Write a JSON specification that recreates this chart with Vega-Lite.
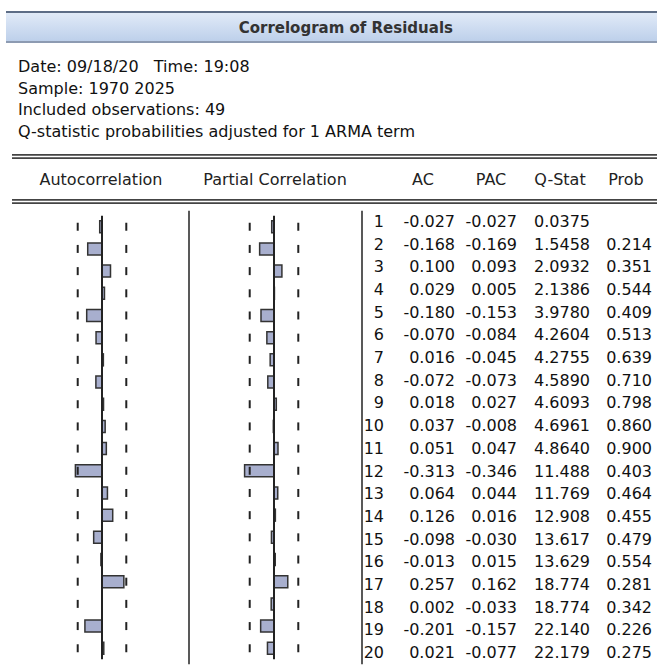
{
  "$schema": "https://vega.github.io/schema/vega-lite/v6.json",
  "width": 657,
  "height": 670,
  "autosize": "none",
  "padding": 0,
  "background": "white",
  "config": {
    "view": {"stroke": null},
    "locale": {"number": {"decimal": ".", "thousands": ",", "grouping": [3], "currency": ["$", ""], "minus": "-"}},
    "text": {"font": "DejaVu Sans", "fontSize": 16, "color": "#111111"}
  },
  "datasets": {
    "acf": [
      {"lag": 1, "ac": -0.027, "pac": -0.027, "q": "0.0375", "prob": null},
      {"lag": 2, "ac": -0.168, "pac": -0.169, "q": "1.5458", "prob": 0.214},
      {"lag": 3, "ac": 0.100, "pac": 0.093, "q": "2.0932", "prob": 0.351},
      {"lag": 4, "ac": 0.029, "pac": 0.005, "q": "2.1386", "prob": 0.544},
      {"lag": 5, "ac": -0.180, "pac": -0.153, "q": "3.9780", "prob": 0.409},
      {"lag": 6, "ac": -0.070, "pac": -0.084, "q": "4.2604", "prob": 0.513},
      {"lag": 7, "ac": 0.016, "pac": -0.045, "q": "4.2755", "prob": 0.639},
      {"lag": 8, "ac": -0.072, "pac": -0.073, "q": "4.5890", "prob": 0.710},
      {"lag": 9, "ac": 0.018, "pac": 0.027, "q": "4.6093", "prob": 0.798},
      {"lag": 10, "ac": 0.037, "pac": -0.008, "q": "4.6961", "prob": 0.860},
      {"lag": 11, "ac": 0.051, "pac": 0.047, "q": "4.8640", "prob": 0.900},
      {"lag": 12, "ac": -0.313, "pac": -0.346, "q": "11.488", "prob": 0.403},
      {"lag": 13, "ac": 0.064, "pac": 0.044, "q": "11.769", "prob": 0.464},
      {"lag": 14, "ac": 0.126, "pac": 0.016, "q": "12.908", "prob": 0.455},
      {"lag": 15, "ac": -0.098, "pac": -0.030, "q": "13.617", "prob": 0.479},
      {"lag": 16, "ac": -0.013, "pac": 0.015, "q": "13.629", "prob": 0.554},
      {"lag": 17, "ac": 0.257, "pac": 0.162, "q": "18.774", "prob": 0.281},
      {"lag": 18, "ac": 0.002, "pac": -0.033, "q": "18.774", "prob": 0.342},
      {"lag": 19, "ac": -0.201, "pac": -0.157, "q": "22.140", "prob": 0.226},
      {"lag": 20, "ac": 0.021, "pac": -0.077, "q": "22.179", "prob": 0.275}
    ]
  },
  "layer": [
    {
      "data": {"values": [{"title": "Correlogram of Residuals"}]},
      "layer": [
        {
          "mark": {"type": "rect", "fill": {"gradient": "linear", "x1": 0, "y1": 0, "x2": 0, "y2": 1, "stops": [{"offset": 0, "color": "#e2ebf8"}, {"offset": 1, "color": "#bccfea"}]}},
          "encoding": {
            "x": {"datum": 0, "type": "quantitative", "scale": {"domain": [0, 1], "range": [6, 657], "nice": false, "zero": false}, "axis": null},
            "x2": {"datum": 1},
            "y": {"datum": 0, "type": "quantitative", "scale": {"domain": [0, 1], "range": [12, 42], "nice": false, "zero": false}, "axis": null},
            "y2": {"datum": 1}
          }
        },
        {
          "mark": {"type": "rule", "stroke": "#5d6d86", "strokeWidth": 2},
          "encoding": {
            "x": {"datum": 0, "type": "quantitative", "scale": {"domain": [0, 1], "range": [6, 657], "nice": false, "zero": false}, "axis": null},
            "x2": {"datum": 1},
            "y": {"datum": 0, "type": "quantitative", "scale": {"domain": [0, 1], "range": [12, 42], "nice": false, "zero": false}, "axis": null}
          }
        },
        {
          "mark": {"type": "rule", "stroke": "#8d9bb2", "strokeWidth": 2},
          "encoding": {
            "x": {"datum": 0, "type": "quantitative", "scale": {"domain": [0, 1], "range": [6, 657], "nice": false, "zero": false}, "axis": null},
            "x2": {"datum": 1},
            "y": {"datum": 1, "type": "quantitative", "scale": {"domain": [0, 1], "range": [12, 42], "nice": false, "zero": false}, "axis": null}
          }
        },
        {
          "mark": {"type": "text", "fontWeight": "bold", "fontSize": 15, "color": "#333333", "align": "center", "baseline": "middle"},
          "encoding": {
            "x": {"datum": 0.522, "type": "quantitative", "scale": {"domain": [0, 1], "range": [6, 657], "nice": false, "zero": false}, "axis": null},
            "y": {"datum": 0.52, "type": "quantitative", "scale": {"domain": [0, 1], "range": [12, 42], "nice": false, "zero": false}, "axis": null},
            "text": {"field": "title"}
          }
        }
      ]
    },
    {
      "data": {"values": [
        {"note": "Date: 09/18/20\u00a0\u00a0\u00a0Time: 19:08"},
        {"note": "Sample: 1970 2025"},
        {"note": "Included observations: 49"},
        {"note": "Q-statistic probabilities adjusted for 1 ARMA term"}
      ]},
      "mark": {"type": "text", "align": "left", "baseline": "middle"},
      "encoding": {
        "x": {"datum": 0, "type": "quantitative", "scale": {"domain": [0, 1], "range": [18, 657], "nice": false, "zero": false}, "axis": null},
        "y": {"field": "note", "type": "nominal", "sort": null, "scale": {"type": "point", "range": [67, 132], "padding": 0}, "axis": null},
        "text": {"field": "note"}
      }
    },
    {
      "data": {"values": [{}]},
      "encoding": {
        "y": {"datum": 0, "type": "quantitative", "scale": {"domain": [0, 1, 2], "range": [156.5, 180, 201.5], "nice": false, "zero": false}, "axis": null}
      },
      "layer": [
        {
          "mark": {"type": "rule", "stroke": "#444444", "strokeWidth": 5},
          "encoding": {
            "x": {"datum": -1, "type": "quantitative", "scale": {"domain": [-1, 0, 1, 2, 3, 4, 5, 6], "range": [12, 101, 275, 423, 491, 560, 626, 657], "nice": false, "zero": false}, "axis": null},
            "x2": {"datum": 6}
          }
        },
        {
          "mark": {"type": "rule", "stroke": "#ffffff", "strokeWidth": 1.6},
          "encoding": {
            "x": {"datum": -1, "type": "quantitative", "scale": {"domain": [-1, 0, 1, 2, 3, 4, 5, 6], "range": [12, 101, 275, 423, 491, 560, 626, 657], "nice": false, "zero": false}, "axis": null},
            "x2": {"datum": 6}
          }
        },
        {
          "mark": {"type": "rule", "stroke": "#444444", "strokeWidth": 5},
          "encoding": {
            "x": {"datum": -1, "type": "quantitative", "scale": {"domain": [-1, 0, 1, 2, 3, 4, 5, 6], "range": [12, 101, 275, 423, 491, 560, 626, 657], "nice": false, "zero": false}, "axis": null},
            "x2": {"datum": 6},
            "y": {"datum": 2, "type": "quantitative", "scale": {"domain": [0, 1, 2], "range": [156.5, 180, 201.5], "nice": false, "zero": false}, "axis": null}
          }
        },
        {
          "mark": {"type": "rule", "stroke": "#ffffff", "strokeWidth": 1.6},
          "encoding": {
            "x": {"datum": -1, "type": "quantitative", "scale": {"domain": [-1, 0, 1, 2, 3, 4, 5, 6], "range": [12, 101, 275, 423, 491, 560, 626, 657], "nice": false, "zero": false}, "axis": null},
            "x2": {"datum": 6},
            "y": {"datum": 2, "type": "quantitative", "scale": {"domain": [0, 1, 2], "range": [156.5, 180, 201.5], "nice": false, "zero": false}, "axis": null}
          }
        },
        {
          "mark": {"type": "text", "align": "center", "baseline": "middle", "color": "#222222"},
          "encoding": {
            "x": {"datum": 0, "type": "quantitative", "scale": {"domain": [-1, 0, 1, 2, 3, 4, 5, 6], "range": [12, 101, 275, 423, 491, 560, 626, 657], "nice": false, "zero": false}, "axis": null},
            "y": {"datum": 1, "type": "quantitative", "scale": {"domain": [0, 1, 2], "range": [156.5, 180, 201.5], "nice": false, "zero": false}, "axis": null},
            "text": {"value": "Autocorrelation"}
          }
        },
        {
          "mark": {"type": "text", "align": "center", "baseline": "middle", "color": "#222222"},
          "encoding": {
            "x": {"datum": 1, "type": "quantitative", "scale": {"domain": [-1, 0, 1, 2, 3, 4, 5, 6], "range": [12, 101, 275, 423, 491, 560, 626, 657], "nice": false, "zero": false}, "axis": null},
            "y": {"datum": 1, "type": "quantitative", "scale": {"domain": [0, 1, 2], "range": [156.5, 180, 201.5], "nice": false, "zero": false}, "axis": null},
            "text": {"value": "Partial Correlation"}
          }
        },
        {
          "mark": {"type": "text", "align": "center", "baseline": "middle", "color": "#222222"},
          "encoding": {
            "x": {"datum": 2, "type": "quantitative", "scale": {"domain": [-1, 0, 1, 2, 3, 4, 5, 6], "range": [12, 101, 275, 423, 491, 560, 626, 657], "nice": false, "zero": false}, "axis": null},
            "y": {"datum": 1, "type": "quantitative", "scale": {"domain": [0, 1, 2], "range": [156.5, 180, 201.5], "nice": false, "zero": false}, "axis": null},
            "text": {"value": "AC"}
          }
        },
        {
          "mark": {"type": "text", "align": "center", "baseline": "middle", "color": "#222222"},
          "encoding": {
            "x": {"datum": 3, "type": "quantitative", "scale": {"domain": [-1, 0, 1, 2, 3, 4, 5, 6], "range": [12, 101, 275, 423, 491, 560, 626, 657], "nice": false, "zero": false}, "axis": null},
            "y": {"datum": 1, "type": "quantitative", "scale": {"domain": [0, 1, 2], "range": [156.5, 180, 201.5], "nice": false, "zero": false}, "axis": null},
            "text": {"value": "PAC"}
          }
        },
        {
          "mark": {"type": "text", "align": "center", "baseline": "middle", "color": "#222222"},
          "encoding": {
            "x": {"datum": 4, "type": "quantitative", "scale": {"domain": [-1, 0, 1, 2, 3, 4, 5, 6], "range": [12, 101, 275, 423, 491, 560, 626, 657], "nice": false, "zero": false}, "axis": null},
            "y": {"datum": 1, "type": "quantitative", "scale": {"domain": [0, 1, 2], "range": [156.5, 180, 201.5], "nice": false, "zero": false}, "axis": null},
            "text": {"value": "Q-Stat"}
          }
        },
        {
          "mark": {"type": "text", "align": "center", "baseline": "middle", "color": "#222222"},
          "encoding": {
            "x": {"datum": 5, "type": "quantitative", "scale": {"domain": [-1, 0, 1, 2, 3, 4, 5, 6], "range": [12, 101, 275, 423, 491, 560, 626, 657], "nice": false, "zero": false}, "axis": null},
            "y": {"datum": 1, "type": "quantitative", "scale": {"domain": [0, 1, 2], "range": [156.5, 180, 201.5], "nice": false, "zero": false}, "axis": null},
            "text": {"value": "Prob"}
          }
        }
      ]
    },
    {
      "data": {"name": "acf"},
      "layer": [
        {
          "mark": {"type": "bar", "orient": "horizontal", "height": 12, "fill": "#a8afce", "stroke": "#333333", "strokeWidth": 1.5},
          "encoding": {
            "x": {"field": "ac", "type": "quantitative", "scale": {"domain": [-1, 1], "range": [17, 187], "nice": false, "zero": false}, "axis": null},
            "x2": {"datum": 0},
            "y": {"field": "lag", "type": "quantitative", "scale": {"domain": [0.5, 20.5], "range": [210.65, 664.35], "nice": false, "zero": false}, "axis": null}
          }
        },
        {
          "data": {"values": [{}]},
          "mark": {"type": "rule", "stroke": "#222222", "strokeWidth": 2},
          "encoding": {
            "x": {"datum": 0, "type": "quantitative", "scale": {"domain": [-1, 1], "range": [17, 187], "nice": false, "zero": false}, "axis": null},
            "y": {"datum": 0.5, "type": "quantitative", "scale": {"domain": [0.5, 20.5], "range": [210.65, 664.35], "nice": false, "zero": false}, "axis": null},
            "y2": {"datum": 20.5}
          }
        },
        {
          "mark": {"type": "tick", "orient": "vertical", "size": 8, "thickness": 2, "color": "#222222", "opacity": 1},
          "encoding": {
            "x": {"datum": -0.2857, "type": "quantitative", "scale": {"domain": [-1, 1], "range": [17, 187], "nice": false, "zero": false}, "axis": null},
            "y": {"field": "lag", "type": "quantitative", "scale": {"domain": [0.5, 20.5], "range": [210.65, 664.35], "nice": false, "zero": false}, "axis": null}
          }
        },
        {
          "mark": {"type": "tick", "orient": "vertical", "size": 8, "thickness": 2, "color": "#222222", "opacity": 1},
          "encoding": {
            "x": {"datum": 0.2857, "type": "quantitative", "scale": {"domain": [-1, 1], "range": [17, 187], "nice": false, "zero": false}, "axis": null},
            "y": {"field": "lag", "type": "quantitative", "scale": {"domain": [0.5, 20.5], "range": [210.65, 664.35], "nice": false, "zero": false}, "axis": null}
          }
        }
      ]
    },
    {
      "data": {"name": "acf"},
      "layer": [
        {
          "mark": {"type": "bar", "orient": "horizontal", "height": 12, "fill": "#a8afce", "stroke": "#333333", "strokeWidth": 1.5},
          "encoding": {
            "x": {"field": "pac", "type": "quantitative", "scale": {"domain": [-1, 1], "range": [189, 359], "nice": false, "zero": false}, "axis": null},
            "x2": {"datum": 0},
            "y": {"field": "lag", "type": "quantitative", "scale": {"domain": [0.5, 20.5], "range": [210.65, 664.35], "nice": false, "zero": false}, "axis": null}
          }
        },
        {
          "data": {"values": [{}]},
          "mark": {"type": "rule", "stroke": "#222222", "strokeWidth": 2},
          "encoding": {
            "x": {"datum": 0, "type": "quantitative", "scale": {"domain": [-1, 1], "range": [189, 359], "nice": false, "zero": false}, "axis": null},
            "y": {"datum": 0.5, "type": "quantitative", "scale": {"domain": [0.5, 20.5], "range": [210.65, 664.35], "nice": false, "zero": false}, "axis": null},
            "y2": {"datum": 20.5}
          }
        },
        {
          "mark": {"type": "tick", "orient": "vertical", "size": 8, "thickness": 2, "color": "#222222", "opacity": 1},
          "encoding": {
            "x": {"datum": -0.2857, "type": "quantitative", "scale": {"domain": [-1, 1], "range": [189, 359], "nice": false, "zero": false}, "axis": null},
            "y": {"field": "lag", "type": "quantitative", "scale": {"domain": [0.5, 20.5], "range": [210.65, 664.35], "nice": false, "zero": false}, "axis": null}
          }
        },
        {
          "mark": {"type": "tick", "orient": "vertical", "size": 8, "thickness": 2, "color": "#222222", "opacity": 1},
          "encoding": {
            "x": {"datum": 0.2857, "type": "quantitative", "scale": {"domain": [-1, 1], "range": [189, 359], "nice": false, "zero": false}, "axis": null},
            "y": {"field": "lag", "type": "quantitative", "scale": {"domain": [0.5, 20.5], "range": [210.65, 664.35], "nice": false, "zero": false}, "axis": null}
          }
        }
      ]
    },
    {
      "data": {"name": "acf"},
      "layer": [
        {
          "data": {"values": [{}]},
          "mark": {"type": "rule", "stroke": "#222222", "strokeWidth": 1.5},
          "encoding": {
            "x": {"datum": 0, "type": "quantitative", "scale": {"domain": [0, 1, 2, 3, 4, 5, 6], "range": [189, 362, 384, 455, 517, 590, 652], "nice": false, "zero": false}, "axis": null},
            "y": {"datum": 0.5, "type": "quantitative", "scale": {"domain": [0.5, 20.5], "range": [210.65, 664.35], "nice": false, "zero": false}, "axis": null},
            "y2": {"datum": 20.5}
          }
        },
        {
          "data": {"values": [{}]},
          "mark": {"type": "rule", "stroke": "#222222", "strokeWidth": 1.5},
          "encoding": {
            "x": {"datum": 1, "type": "quantitative", "scale": {"domain": [0, 1, 2, 3, 4, 5, 6], "range": [189, 362, 384, 455, 517, 590, 652], "nice": false, "zero": false}, "axis": null},
            "y": {"datum": 0.5, "type": "quantitative", "scale": {"domain": [0.5, 20.5], "range": [210.65, 664.35], "nice": false, "zero": false}, "axis": null},
            "y2": {"datum": 20.5}
          }
        },
        {
          "mark": {"type": "text", "align": "right", "baseline": "middle"},
          "encoding": {
            "x": {"datum": 2, "type": "quantitative", "scale": {"domain": [0, 1, 2, 3, 4, 5, 6], "range": [189, 362, 384, 455, 517, 590, 652], "nice": false, "zero": false}, "axis": null},
            "y": {"field": "lag", "type": "quantitative", "scale": {"domain": [0.5, 20.5], "range": [210.65, 664.35], "nice": false, "zero": false}, "axis": null},
            "text": {"field": "lag", "type": "quantitative", "format": "d"}
          }
        },
        {
          "mark": {"type": "text", "align": "right", "baseline": "middle"},
          "encoding": {
            "x": {"datum": 3, "type": "quantitative", "scale": {"domain": [0, 1, 2, 3, 4, 5, 6], "range": [189, 362, 384, 455, 517, 590, 652], "nice": false, "zero": false}, "axis": null},
            "y": {"field": "lag", "type": "quantitative", "scale": {"domain": [0.5, 20.5], "range": [210.65, 664.35], "nice": false, "zero": false}, "axis": null},
            "text": {"field": "ac", "type": "quantitative", "format": ".3f"}
          }
        },
        {
          "mark": {"type": "text", "align": "right", "baseline": "middle"},
          "encoding": {
            "x": {"datum": 4, "type": "quantitative", "scale": {"domain": [0, 1, 2, 3, 4, 5, 6], "range": [189, 362, 384, 455, 517, 590, 652], "nice": false, "zero": false}, "axis": null},
            "y": {"field": "lag", "type": "quantitative", "scale": {"domain": [0.5, 20.5], "range": [210.65, 664.35], "nice": false, "zero": false}, "axis": null},
            "text": {"field": "pac", "type": "quantitative", "format": ".3f"}
          }
        },
        {
          "mark": {"type": "text", "align": "right", "baseline": "middle"},
          "encoding": {
            "x": {"datum": 5, "type": "quantitative", "scale": {"domain": [0, 1, 2, 3, 4, 5, 6], "range": [189, 362, 384, 455, 517, 590, 652], "nice": false, "zero": false}, "axis": null},
            "y": {"field": "lag", "type": "quantitative", "scale": {"domain": [0.5, 20.5], "range": [210.65, 664.35], "nice": false, "zero": false}, "axis": null},
            "text": {"field": "q", "type": "nominal"}
          }
        },
        {
          "transform": [{"filter": "isValid(datum.prob)"}],
          "mark": {"type": "text", "align": "right", "baseline": "middle"},
          "encoding": {
            "x": {"datum": 6, "type": "quantitative", "scale": {"domain": [0, 1, 2, 3, 4, 5, 6], "range": [189, 362, 384, 455, 517, 590, 652], "nice": false, "zero": false}, "axis": null},
            "y": {"field": "lag", "type": "quantitative", "scale": {"domain": [0.5, 20.5], "range": [210.65, 664.35], "nice": false, "zero": false}, "axis": null},
            "text": {"field": "prob", "type": "quantitative", "format": ".3f"}
          }
        }
      ]
    }
  ],
  "resolve": {"scale": {"x": "independent", "y": "independent"}}
}
